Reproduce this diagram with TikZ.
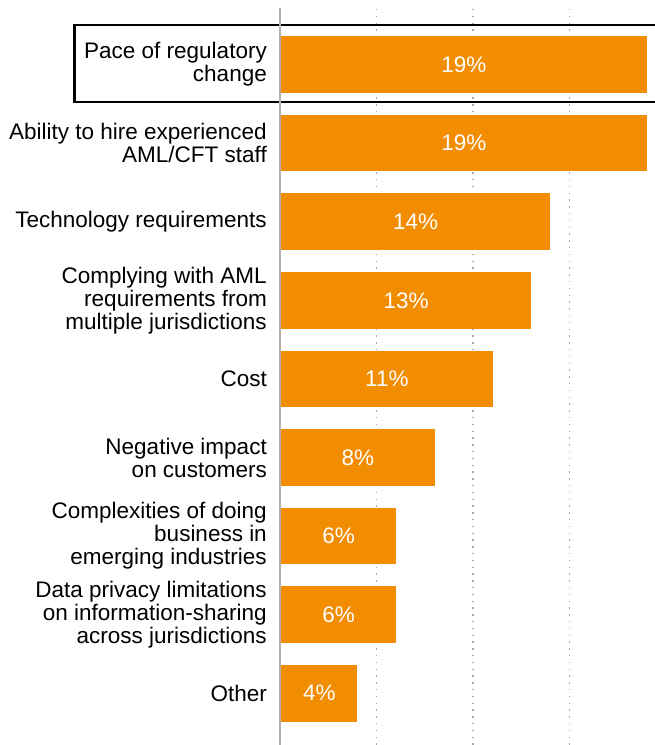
\documentclass[tikz,border=0pt]{standalone}
\usepackage{fontspec}
\setmainfont{Liberation Sans}
\definecolor{barorange}{RGB}{242,140,0}
\definecolor{axisgray}{RGB}{184,176,168}
\definecolor{gridgray}{RGB}{170,165,160}
\begin{document}
\begin{tikzpicture}[x=1pt,y=-1pt,
  bar/.style={fill=barorange, anchor=north west, minimum height=56.5pt, inner sep=0pt, text=white, font=\fontsize{22.5}{23}\selectfont},
  lab/.style={anchor=east, align=right, inner sep=0pt, font=\fontsize{22.5}{23}\selectfont},
  grid/.style={gridgray, line width=1.3pt, dash pattern=on 1.3pt off 5.5pt}]
\useasboundingbox (0,0) rectangle (654,745);
%
\coordinate (g1t) at (376.5,9);
\coordinate (g1b) at (376.5,745);
\coordinate (g2t) at (473,9);
\coordinate (g2b) at (473,745);
\coordinate (g3t) at (569.5,9);
\coordinate (g3b) at (569.5,745);
\draw [grid] (g1t) -- (g1b);
\draw [grid] (g2t) -- (g2b);
\draw [grid] (g3t) -- (g3b);
%
\draw [line width=2.6pt] (74.5,25) rectangle (662,102);
%
\node[bar, minimum width=365.5pt] (b1) at (281,36) {19\%};
\node[bar, minimum width=365.5pt] (b2) at (281,114.6) {19\%};
\node[bar, minimum width=269pt] (b3) at (281,193.2) {14\%};
\node[bar, minimum width=250pt] (b4) at (281,271.8) {13\%};
\node[bar, minimum width=211.3pt] (b5) at (281,350.4) {11\%};
\node[bar, minimum width=153.4pt] (b6) at (281,429) {8\%};
\node[bar, minimum width=114.8pt] (b7) at (281,507.6) {6\%};
\node[bar, minimum width=114.8pt] (b8) at (281,586.2) {6\%};
\node[bar, minimum width=76.2pt] (b9) at (281,664.8) {4\%};
%
\node[lab] (l1) at (267,64.5) {Pace of regulatory\\change};
\node[lab] (l2) at (267,143.1) {Ability to hire experienced\\AML/CFT staff};
\node[lab] (l3) at (267,221.7) {Technology requirements};
\node[lab] (l4) at (267,300.3) {Complying with AML\\requirements from\\multiple jurisdictions};
\node[lab] (l5) at (267,378.9) {Cost};
\node[lab] (l6) at (267,457.5) {Negative impact\\on customers};
\node[lab] (l7) at (267,536.1) {Complexities of doing\\business in\\emerging industries};
\node[lab] (l8) at (267,614.7) {Data privacy limitations\\on information-sharing\\across jurisdictions};
\node[lab] (l9) at (267,693.3) {Other};
%
\coordinate (axtop) at (279.5,8);
\coordinate (axbot) at (279.5,745);
\draw [axisgray, line width=2pt] (axtop) -- (axbot);
\end{tikzpicture}
\end{document}
